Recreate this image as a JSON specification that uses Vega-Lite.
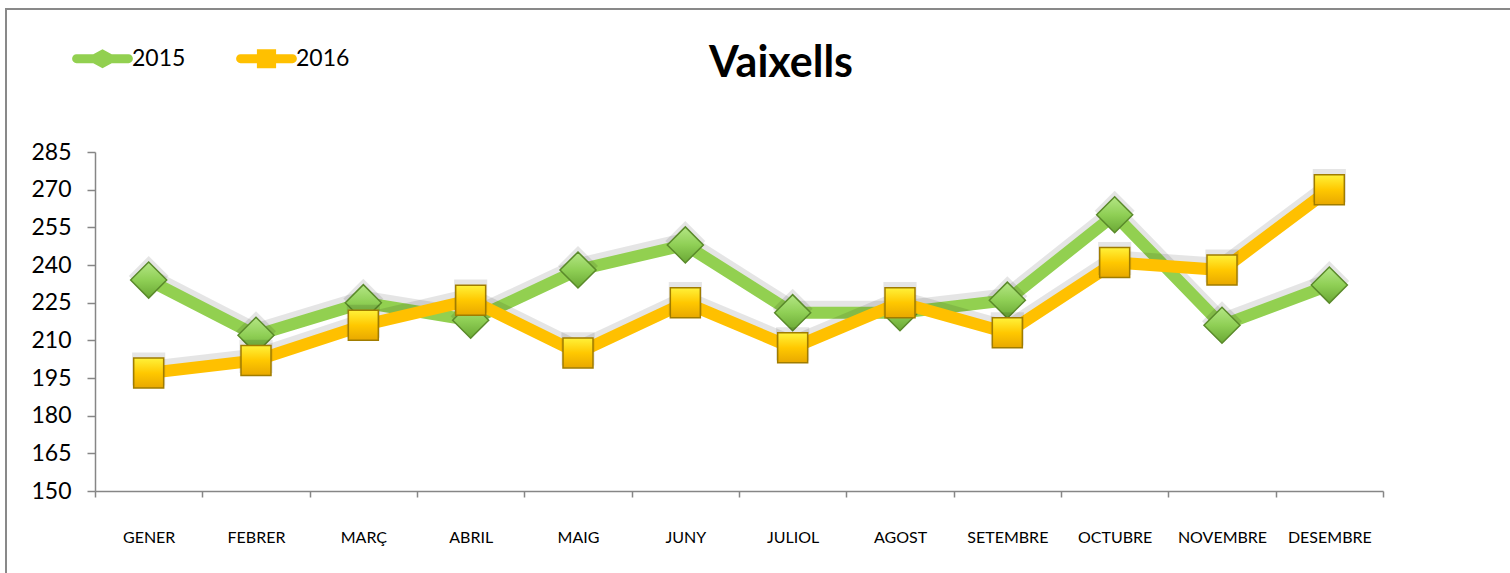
{
  "$schema": "https://vega.github.io/schema/vega-lite/v6.json",
  "width": 1506,
  "height": 566,
  "autosize": "none",
  "padding": {"left": 6, "top": 9, "right": -2, "bottom": -2},
  "background": "white",
  "config": {
    "font": "Lato",
    "view": {"stroke": "#898989", "strokeWidth": 2}
  },
  "title": {
    "text": "Vaixells",
    "fontSize": 43,
    "fontWeight": "bold",
    "font": "Lato",
    "color": "black",
    "anchor": "middle",
    "frame": "group",
    "offset": -77,
    "dx": 22
  },
  "data": {
    "values": [
      {"month": "GENER", "year": "2015", "value": 234},
      {"month": "FEBRER", "year": "2015", "value": 212},
      {"month": "MARÇ", "year": "2015", "value": 225},
      {"month": "ABRIL", "year": "2015", "value": 218},
      {"month": "MAIG", "year": "2015", "value": 238},
      {"month": "JUNY", "year": "2015", "value": 248},
      {"month": "JULIOL", "year": "2015", "value": 221},
      {"month": "AGOST", "year": "2015", "value": 221},
      {"month": "SETEMBRE", "year": "2015", "value": 226},
      {"month": "OCTUBRE", "year": "2015", "value": 260},
      {"month": "NOVEMBRE", "year": "2015", "value": 216},
      {"month": "DESEMBRE", "year": "2015", "value": 232},
      {"month": "GENER", "year": "2016", "value": 197},
      {"month": "FEBRER", "year": "2016", "value": 202},
      {"month": "MARÇ", "year": "2016", "value": 216},
      {"month": "ABRIL", "year": "2016", "value": 226},
      {"month": "MAIG", "year": "2016", "value": 205},
      {"month": "JUNY", "year": "2016", "value": 225},
      {"month": "JULIOL", "year": "2016", "value": 207},
      {"month": "AGOST", "year": "2016", "value": 225},
      {"month": "SETEMBRE", "year": "2016", "value": 213},
      {"month": "OCTUBRE", "year": "2016", "value": 241},
      {"month": "NOVEMBRE", "year": "2016", "value": 238},
      {"month": "DESEMBRE", "year": "2016", "value": 270}
    ]
  },
  "encoding": {
    "x": {
      "field": "month",
      "type": "nominal",
      "sort": null,
      "scale": {"range": [89, 1377], "paddingInner": 0, "paddingOuter": 0},
      "axis": {
        "title": null,
        "offset": -84,
        "labelAngle": 0,
        "labelFontSize": 16,
        "labelFont": "Lato",
        "labelColor": "black",
        "labelPadding": 32,
        "tickBand": "extent",
        "tickSize": 6,
        "tickColor": "#868686",
        "domainColor": "#868686",
        "domainWidth": 1.5,
        "tickWidth": 1.5,
        "grid": false
      }
    },
    "y": {
      "field": "value",
      "type": "quantitative",
      "scale": {"domain": [150, 285], "range": [482, 143], "nice": false, "zero": false},
      "axis": {
        "title": null,
        "offset": -89,
        "values": [150, 165, 180, 195, 210, 225, 240, 255, 270, 285],
        "labelFontSize": 23,
        "labelFont": "Lato",
        "labelColor": "black",
        "labelPadding": 16,
        "tickSize": 8,
        "tickColor": "#868686",
        "domainColor": "#868686",
        "domainWidth": 1.5,
        "tickWidth": 1.5,
        "grid": false
      }
    }
  },
  "layer": [
    {
      "transform": [{"filter": "datum.year == '2015'"}],
      "mark": {"type": "line", "stroke": "#000000", "opacity": 0.1, "strokeWidth": 16, "yOffset": -4}
    },
    {
      "transform": [{"filter": "datum.year == '2015'"}],
      "mark": {"type": "line", "stroke": "#92D050", "strokeWidth": 12, "strokeJoin": "miter"}
    },
    {
      "transform": [{"filter": "datum.year == '2015'"}],
      "mark": {"type": "point", "shape": "diamond", "size": 1600, "filled": true, "fill": "#000000", "opacity": 0.1, "yOffset": -4}
    },
    {
      "transform": [{"filter": "datum.year == '2015'"}],
      "mark": {
        "type": "point",
        "shape": "diamond",
        "size": 1300,
        "filled": true,
        "opacity": 1,
        "fill": {"gradient": "linear", "x1": 0, "y1": 0, "x2": 0, "y2": 1, "stops": [{"offset": 0, "color": "#b4e685"}, {"offset": 0.5, "color": "#8fcf55"}, {"offset": 1, "color": "#6aa835"}]},
        "stroke": "#5a8a2a",
        "strokeWidth": 1.5
      }
    },
    {
      "transform": [{"filter": "datum.year == '2016'"}],
      "mark": {"type": "line", "stroke": "#000000", "opacity": 0.1, "strokeWidth": 16, "yOffset": -4}
    },
    {
      "transform": [{"filter": "datum.year == '2016'"}],
      "mark": {"type": "line", "stroke": "#FFC000", "strokeWidth": 12, "strokeJoin": "miter"}
    },
    {
      "transform": [{"filter": "datum.year == '2016'"}],
      "mark": {"type": "point", "shape": "square", "size": 1100, "filled": true, "fill": "#000000", "opacity": 0.1, "yOffset": -4}
    },
    {
      "transform": [{"filter": "datum.year == '2016'"}],
      "mark": {
        "type": "point",
        "shape": "square",
        "size": 900,
        "filled": true,
        "opacity": 1,
        "fill": {"gradient": "linear", "x1": 0, "y1": 0, "x2": 0, "y2": 1, "stops": [{"offset": 0, "color": "#fff23a"}, {"offset": 0.5, "color": "#ffc800"}, {"offset": 1, "color": "#e8a800"}]},
        "stroke": "#a07c00",
        "strokeWidth": 1.5
      }
    },
    {
      "transform": [{"filter": "datum.value < 0"}],
      "mark": {"type": "point", "filled": true, "opacity": 1},
      "encoding": {
        "color": {
          "field": "year",
          "type": "nominal",
          "scale": {"domain": ["2015", "2016"], "range": ["#92D050", "#FFC000"]},
          "legend": {
            "title": null,
            "orient": "none",
            "legendX": 63,
            "legendY": 38,
            "direction": "horizontal",
            "labelFontSize": 23,
            "labelFont": "Lato",
            "labelColor": "black",
            "symbolSize": 256,
            "symbolStrokeWidth": 0,
            "labelOffset": 40,
            "columnPadding": 47,
            "symbolOpacity": 1
          }
        },
        "shape": {
          "field": "year",
          "type": "nominal",
          "scale": {
            "domain": ["2015", "2016"],
            "range": [
              "M-0.5,-0.55L1.6,-0.55L2.75,-1.2L3.9,-0.55L6,-0.55A0.55,0.55 0 0 1 6,0.55L3.9,0.55L2.75,1.2L1.6,0.55L-0.5,0.55A0.55,0.55 0 0 1 -0.5,-0.55Z",
              "M-0.5,-0.55L1.55,-0.55L1.55,-1.2L3.95,-1.2L3.95,-0.55L6,-0.55A0.55,0.55 0 0 1 6,0.55L3.95,0.55L3.95,1.2L1.55,1.2L1.55,0.55L-0.5,0.55A0.55,0.55 0 0 1 -0.5,-0.55Z"
            ]
          },
          "legend": {
            "title": null,
            "orient": "none",
            "legendX": 63,
            "legendY": 38,
            "direction": "horizontal",
            "labelFontSize": 23,
            "labelFont": "Lato",
            "labelColor": "black",
            "symbolSize": 256,
            "symbolStrokeWidth": 0,
            "labelOffset": 40,
            "columnPadding": 47,
            "symbolOpacity": 1
          }
        }
      }
    }
  ]
}
